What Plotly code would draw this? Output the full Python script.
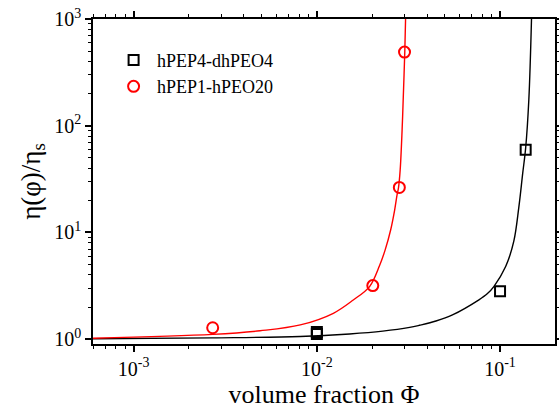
import plotly.graph_objects as go

# Measured data points
sq_x = [0.01, 0.01, 0.1, 0.138]
sq_y = [1.12, 1.17, 2.82, 59.5]
ci_x = [0.0027, 0.0202, 0.0282, 0.0301]
ci_y = [1.28, 3.18, 26.4, 490]

# Fit curves
black_x = [0.0006, 0.0027, 0.0081, 0.0151, 0.0229, 0.0321, 0.0363, 0.0447, 0.0550, 0.0767,
           0.0851, 0.0925, 0.1073, 0.1189, 0.1265, 0.1330, 0.138, 0.1436, 0.1485]
black_y = [1.01, 1.03, 1.06, 1.12, 1.19, 1.29, 1.35, 1.48, 1.69, 2.34,
           2.66, 3.11, 4.79, 8.3, 17.0, 36, 62, 175, 1000]
red_x = [0.0006, 0.0027, 0.0049, 0.00812, 0.0123, 0.0158, 0.0194, 0.0220, 0.0236, 0.0253,
         0.0266, 0.0274, 0.0279, 0.0285, 0.0292, 0.0296, 0.0302, 0.0305]
red_y = [1.02, 1.11, 1.20, 1.36, 1.75, 2.33, 3.11, 4.9, 6.87, 10.6,
         16.3, 22.5, 26.2, 38.6, 91.5, 175, 493, 1000]

x_major = [1e-3, 1e-2, 1e-1]
x_labels = ["10<sup>-3</sup>", "10<sup>-2</sup>", "10<sup>-1</sup>"]
y_major = [1, 10, 100, 1000]
y_labels = ["10<sup>0</sup>", "10<sup>1</sup>", "10<sup>2</sup>", "10<sup>3</sup>"]
x_minor = [m * d for d in (1e-4, 1e-3, 1e-2, 1e-1) for m in range(2, 10)]
y_minor = [m * d for d in (0.1, 1, 10, 100) for m in range(2, 10)]

FONT = "Liberation Serif"

fig = go.Figure()
fig.add_trace(go.Scatter(x=black_x, y=black_y, mode="lines",
                         line=dict(color="black", width=1.4, shape="spline", smoothing=1.0),
                         showlegend=False, hoverinfo="skip"))
fig.add_trace(go.Scatter(x=red_x, y=red_y, mode="lines",
                         line=dict(color="red", width=1.4, shape="spline", smoothing=1.0),
                         showlegend=False, hoverinfo="skip"))
fig.add_trace(go.Scatter(x=sq_x, y=sq_y, mode="markers", name="hPEP4-dhPEO4",
                         marker=dict(symbol="square-open", size=10, color="black",
                                     line=dict(width=2, color="black"))))
fig.add_trace(go.Scatter(x=ci_x, y=ci_y, mode="markers", name="hPEP1-hPEO20",
                         marker=dict(symbol="circle-open", size=11, color="red",
                                     line=dict(width=2, color="red"))))

def axis_common(major, labels, minor_vals):
    return dict(
        type="log", showgrid=False, zeroline=False, automargin=False,
        showline=True, linecolor="black", linewidth=1.5, mirror="ticks",
        ticks="outside", ticklen=6, tickwidth=1.5, tickcolor="black",
        tickmode="array", tickvals=major, ticktext=labels,
        tickfont=dict(family=FONT, size=20, color="black"),
        minor=dict(tickmode="array", tickvals=minor_vals, ticks="outside", ticklen=3,
                   tickwidth=1.2, tickcolor="black", showgrid=False),
    )

fig.update_xaxes(**axis_common(x_major, x_labels, x_minor), range=[-3.222, -0.70],
                 title=dict(text="volume fraction Φ", font=dict(family=FONT, size=26, color="black"),
                            standoff=4))
fig.update_yaxes(**axis_common(y_major, y_labels, y_minor), range=[-0.045, 3],
                 title=dict(text="η(φ)/η<sub>s</sub>", font=dict(family=FONT, size=27, color="black"),
                            standoff=6))

fig.update_layout(
    width=559, height=414,
    margin=dict(l=93, r=4, t=19, b=70),
    paper_bgcolor="white", plot_bgcolor="white",
    legend=dict(x=0.037, y=0.93, xanchor="left", yanchor="top",
                font=dict(family=FONT, size=18, color="black"),
                bgcolor="rgba(0,0,0,0)", borderwidth=0, tracegroupgap=0, itemwidth=37),
    showlegend=True,
)

fig.write_html("out.html")
